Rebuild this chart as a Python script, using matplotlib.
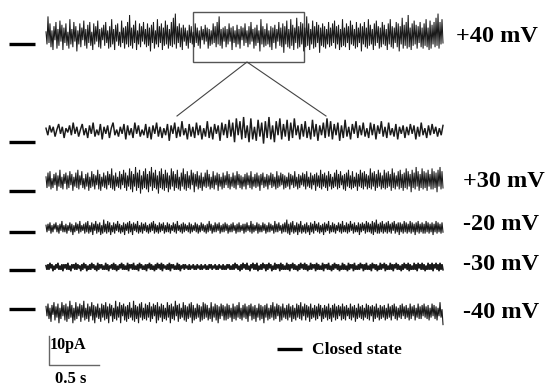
import numpy as np
import matplotlib
matplotlib.use("Agg")
import matplotlib.pyplot as plt
from matplotlib.patches import Rectangle

# ---- data (current values in half-pA units) ----
voltage_labels = ["+40 mV", "", "+30 mV", "-20 mV", "-30 mV", "-40 mV"]

trace_p40 = [
 3,-6,14,-5,9,-8,4,-10,7,-3,10,-9,5,-7,11,-4,8,-10,6,-5,
 9,-7,3,-9,12,-6,5,-8,10,-4,7,-11,4,-6,9,-8,6,-3,11,-7,
 5,-9,8,-5,10,-7,3,-10,9,-6,7,-4,11,-8,5,-9,6,-3,8,-7,
 10,-5,4,-9,7,-8,12,-6,5,-10,8,-4,9,-7,3,-8,11,-5,6,-9,
 7,-6,10,-8,15,-7,6,-9,8,-5,11,-10,4,-6,9,-8,7,-4,10,-6,
 5,-8,9,-7,6,-11,8,-5,10,-9,4,-6,12,-8,7,-5,9,-10,6,-7,
 11,-6,8,-9,5,-7,10,-8,13,-6,16,-9,7,-5,9,-8,6,-10,8,-4,
 6,-7,4,-9,8,-5,7,-6,3,-8,9,-5,6,-7,4,-9,7,-3,5,-6,
 8,-4,6,-9,5,-7,4,-6,9,-5,7,-8,10,-6,14,-7,5,-9,6,-4,
 7,-8,5,-6,9,-4,6,-10,7,-5,4,-8,8,-6,5,-9,7,-3,6,-7,
 9,-5,4,-8,7,-6,10,-4,5,-9,6,-7,8,-5,4,-11,12,-6,7,-8,
 5,-7,9,-6,4,-8,7,-10,6,-5,8,-9,5,-4,10,-7,6,-8,9,-12,
 7,-6,11,-8,5,-9,12,-7,8,-10,6,-5,13,-9,7,-8,10,-6,9,-11,
 6,-8,14,-7,9,-10,5,-6,11,-9,7,-8,10,-5,8,-12,6,-7,9,-8,
 7,-9,5,-6,10,-8,6,-7,9,-5,11,-9,7,-6,8,-10,5,-8,12,-7,
 6,-8,9,-5,7,-10,11,-6,8,-7,5,-9,10,-8,6,-5,9,-11,7,-6,
 10,-8,6,-9,12,-7,8,-6,5,-10,9,-7,11,-5,7,-9,6,-8,10,-6,
 8,-7,5,-10,9,-6,12,-8,7,-9,6,-5,10,-8,9,-11,7,-6,13,-9,
 8,-7,10,-9,15,-8,6,-10,9,-7,11,-6,8,-9,7,-5,10,-8,6,-9,
 9,-7,12,-8,6,-10,11,-9,8,-6,10,-8,13,-7,16,-9,10,-6,12,-5]

trace_zoom = [
 2,-3,4,-1,3,-4,1,5,-2,3,-5,2,-1,4,-3,6,-2,3,-4,1,
 5,-3,2,-5,4,-2,6,-4,1,-3,5,-6,3,-2,4,-5,2,6,-3,1,
 -4,3,-2,5,-6,4,-3,2,-5,6,-2,4,-4,1,-3,5,-5,3,-6,4,
 -2,6,-4,3,-5,2,-3,5,-7,4,-2,6,-5,3,-4,7,-3,2,-6,5,
 -4,3,-5,6,-3,4,-6,2,-4,7,-5,3,-6,5,-2,4,-7,6,-3,5,
 -5,8,-4,6,-8,9,-3,7,-6,10,-5,4,-8,9,-6,3,-7,8,-4,6,
 -9,7,-5,10,-6,4,-8,7,-3,9,-6,5,-4,8,-7,6,-5,9,-3,4,
 -6,5,-4,7,-5,3,-6,8,-4,5,-7,4,-3,6,-5,9,-4,7,-6,5,
 -3,6,-7,4,-5,8,-4,3,-6,5,-2,7,-5,4,-3,6,-4,2,-5,6,
 -3,5,-6,4,-2,7,-4,3,-5,6,-3,2,-4,5,-6,3,-2,4,-5,3,
 -3,5,-2,4,-6,3,-4,6,-3,2,-5,4,-3,5,-2,3,-4,2,-3,4]

trace_p30 = [
 3,-5,6,-4,7,-6,2,-5,5,-3,6,-7,4,-4,8,-5,3,-6,5,-2,
 6,-6,4,-5,7,-3,5,-7,3,-4,6,-5,8,-6,4,-3,7,-5,2,-6,
 5,-4,6,-7,3,-5,7,-4,5,-6,4,-3,8,-6,5,-7,3,-4,6,-5,
 4,-6,7,-3,5,-5,9,-6,4,-7,6,-4,3,-5,7,-6,5,-3,8,-5,
 6,-7,4,-4,9,-6,7,-8,5,-4,10,-7,6,-5,8,-9,4,-6,7,-5,
 9,-6,5,-8,7,-4,10,-7,6,-5,8,-6,4,-9,7,-5,9,-6,5,-7,
 8,-5,6,-8,4,-6,9,-4,7,-7,5,-5,8,-6,3,-7,6,-4,9,-6,
 5,-7,7,-5,4,-6,8,-3,6,-8,5,-4,7,-6,4,-5,6,-7,3,-4,
 6,-5,8,-4,5,-6,3,-5,7,-6,4,-3,6,-7,5,-4,3,-6,6,-5,
 4,-3,7,-5,5,-6,3,-4,6,-5,4,-6,7,-3,5,-5,4,-6,3,-4,
 5,-6,6,-3,4,-5,7,-6,3,-4,5,-5,6,-4,4,-7,5,-3,6,-5,
 3,-4,5,-6,4,-3,6,-5,5,-4,3,-6,7,-5,4,-4,6,-3,5,-6,
 4,-5,3,-4,6,-6,5,-3,4,-5,7,-4,3,-6,5,-5,4,-3,6,-4,
 5,-6,7,-4,3,-5,6,-6,4,-3,5,-7,6,-4,4,-5,8,-6,5,-4,
 6,-5,4,-7,7,-4,5,-6,3,-5,6,-4,8,-6,5,-5,7,-3,4,-6,
 5,-7,6,-4,8,-5,4,-6,7,-5,3,-4,6,-7,5,-4,8,-5,6,-6,
 7,-4,5,-6,4,-5,9,-6,6,-4,7,-7,5,-5,8,-4,6,-6,4,-5,
 8,-6,6,-5,7,-4,5,-7,9,-5,6,-6,4,-4,7,-6,8,-5,5,-7,
 6,-5,9,-6,7,-4,5,-8,8,-5,6,-6,10,-4,7,-7,5,-5,9,-6,
 7,-5,6,-7,8,-4,5,-6,9,-6,7,-5,6,-8,8,-4,10,-6,7,-5]

trace_m20 = [
 2,-3,3,-2,4,-4,2,-3,3,-1,4,-3,2,-4,3,-2,5,-3,2,-3,
 3,-4,2,-2,4,-3,3,-5,2,-3,4,-2,3,-4,5,-3,2,-2,3,-4,
 4,-3,5,-4,2,-3,4,-5,3,-2,5,-4,3,-3,4,-5,2,-4,6,-3,
 3,-4,5,-3,4,-5,2,-3,4,-4,3,-2,5,-3,3,-4,2,-3,4,-5,
 3,-2,4,-4,5,-3,3,-5,4,-2,3,-3,5,-4,2,-3,4,-4,3,-2,
 4,-3,2,-4,3,-3,4,-2,5,-4,3,-3,2,-4,4,-3,3,-2,4,-4,
 2,-3,4,-3,3,-4,2,-2,4,-3,3,-4,5,-2,2,-3,3,-4,4,-3,
 3,-2,2,-3,4,-4,3,-3,2,-2,4,-3,3,-4,2,-3,4,-2,3,-3,
 2,-4,3,-3,5,-2,3,-4,2,-3,4,-3,3,-2,4,-4,2,-3,3,-3,
 4,-2,3,-4,2,-3,3,-3,4,-2,2,-4,3,-3,4,-3,2,-2,3,-4,
 3,-3,4,-2,2,-3,5,-4,3,-3,2,-2,4,-4,3,-3,2,-3,4,-2,
 3,-4,2,-3,4,-3,3,-2,2,-4,5,-3,3,-3,4,-2,2,-4,3,-3,
 4,-3,6,-4,3,-5,4,-3,5,-4,2,-3,4,-5,3,-3,5,-4,2,-3,
 3,-4,4,-3,2,-5,4,-3,3,-4,5,-2,3,-3,4,-4,2,-3,3,-5,
 4,-3,3,-2,5,-4,2,-3,4,-3,3,-4,2,-2,4,-3,3,-4,5,-3,
 2,-3,4,-4,3,-3,5,-2,3,-4,4,-3,2,-3,4,-5,3,-3,4,-2,
 3,-4,5,-3,4,-3,3,-4,5,-5,4,-3,6,-4,3,-4,4,-3,5,-4,
 3,-3,4,-4,5,-3,3,-4,4,-2,5,-4,3,-3,4,-5,4,-3,3,-4,
 5,-3,4,-4,3,-3,5,-4,4,-3,3,-5,4,-3,5,-4,3,-3,4,-4,
 3,-4,5,-3,4,-4,3,-3,4,-5,3,-3,5,-4,4,-3,3,-4,4,-3]

trace_m30 = [
 1,-2,2,-2,3,-1,2,-3,1,-2,2,-1,3,-2,1,-2,2,-3,2,-1,
 2,-2,3,-2,1,-3,2,-1,2,-2,3,-2,2,-1,1,-3,2,-2,3,-1,
 2,-3,1,-2,2,-2,3,-1,2,-2,1,-3,3,-2,2,-1,2,-2,1,-2,
 3,-2,2,-3,1,-1,2,-2,3,-2,2,-3,1,-2,2,-1,3,-2,2,-2,
 1,-2,3,-3,2,-1,2,-2,3,-2,1,-2,2,-3,3,-1,2,-2,1,-2,
 2,-3,2,-1,3,-2,2,-2,1,-3,2,-2,3,-1,2,-2,3,-3,2,-1,
 1,-2,2,-2,3,-3,2,-1,2,-2,1,-2,3,-2,2,-3,1,-1,2,-2,
 2,-1,1,-2,2,-2,1,-1,2,-2,1,-2,2,-1,1,-2,2,-2,1,-1,
 2,-2,1,-2,2,-1,2,-2,1,-1,2,-2,1,-2,2,-1,1,-2,2,-2,
 1,-2,2,-1,2,-2,1,-2,2,-2,3,-1,2,-2,1,-3,2,-2,3,-1,
 2,-2,3,-2,1,-3,2,-1,3,-2,2,-2,3,-3,1,-2,2,-2,3,-1,
 2,-3,2,-2,3,-1,2,-3,1,-2,3,-2,2,-1,2,-3,3,-2,2,-2,
 1,-2,3,-2,2,-3,2,-1,3,-2,2,-2,1,-3,2,-2,3,-1,2,-2,
 3,-2,2,-3,1,-2,3,-2,2,-1,2,-3,3,-2,2,-2,1,-2,3,-3,
 2,-1,2,-2,3,-2,1,-3,2,-2,3,-1,2,-2,2,-3,1,-2,3,-2,
 2,-2,1,-3,3,-2,2,-1,2,-3,3,-2,1,-2,2,-2,3,-1,2,-3,
 2,-2,3,-2,1,-2,2,-3,3,-1,2,-2,2,-3,1,-2,3,-2,2,-1,
 3,-3,2,-2,1,-2,3,-2,2,-3,2,-1,3,-2,2,-2,1,-3,2,-2,
 3,-1,2,-2,3,-3,2,-2,1,-2,3,-2,2,-3,3,-1,2,-2,3,-2,
 2,-3,1,-2,3,-2,2,-2,3,-3,2,-1,3,-2,2,-3,3,-2,2,-2]

trace_m40 = [
 4,-3,6,-5,3,-7,5,-2,7,-6,4,-4,6,-8,3,-5,7,-3,5,-6,
 6,-7,4,-5,8,-4,5,-8,3,-6,7,-5,4,-3,6,-7,5,-4,8,-6,
 3,-5,6,-7,4,-3,7,-6,5,-8,4,-4,6,-5,3,-7,6,-4,5,-6,
 7,-5,4,-8,6,-3,5,-7,3,-5,8,-6,4,-4,7,-8,5,-3,6,-6,
 4,-7,5,-5,7,-4,3,-6,8,-7,5,-5,4,-8,6,-4,7,-6,3,-5,
 6,-6,5,-4,7,-7,4,-5,6,-3,5,-8,7,-6,4,-4,6,-7,5,-5,
 3,-6,7,-4,5,-8,6,-5,4,-6,8,-3,5,-7,6,-5,3,-4,7,-6,
 5,-7,4,-5,6,-4,7,-8,5,-6,3,-5,6,-4,5,-7,4,-6,7,-5,
 6,-4,5,-6,3,-5,7,-7,4,-4,6,-6,5,-8,4,-5,6,-3,5,-6,
 4,-6,6,-5,5,-4,3,-7,6,-5,4,-6,5,-4,7,-5,3,-6,5,-4,
 6,-5,4,-7,5,-3,6,-6,4,-5,5,-7,3,-4,6,-6,5,-5,4,-8,
 5,-4,6,-6,3,-5,5,-4,7,-6,4,-5,6,-3,5,-7,4,-6,6,-4,
 3,-5,5,-6,6,-4,4,-7,5,-5,3,-6,6,-4,5,-5,7,-6,4,-3,
 6,-6,5,-4,4,-7,6,-5,3,-4,5,-6,4,-5,6,-3,5,-7,3,-5,
 5,-4,4,-6,6,-5,3,-7,5,-4,6,-6,4,-5,5,-3,4,-6,6,-5,
 4,-6,5,-3,3,-5,6,-6,4,-4,5,-7,3,-5,6,-4,4,-5,5,-6,
 3,-4,6,-5,5,-6,4,-3,5,-7,4,-5,6,-4,3,-6,5,-5,4,-4,
 5,-6,3,-5,6,-4,4,-6,5,-3,6,-5,4,-6,3,-4,5,-5,6,-3,
 4,-5,5,-4,3,-6,6,-5,4,-3,5,-6,3,-4,6,-5,4,-5,5,-3,
 6,-4,4,-5,5,-6,3,-4,6,-3,5,-5,4,-6,3,-3,7,-4,2,-9]

traces = [trace_p40, trace_zoom, trace_p30, trace_m20, trace_m30, trace_m40]
UNIT_PA = 0.5          # one list unit = 0.5 pA
DURATION_S = 3.97      # length of each sweep

# ---- layout (pixel geometry of the reference) ----
W, H = 547, 387
PX_PER_S = 100.0
PX_PER_PA = 2.8
X0_PX = 46
trace_center_px = [36, 131, 181, 228, 267, 312]
closed_px = [43.5, 141.5, 190.5, 232, 270, 309]
label_y_px = [37, None, 181, 224, 265, 312]
trace_lw = [0.75, 1.05, 0.75, 0.8, 1.15, 0.8]

fig = plt.figure(figsize=(W / 100, H / 100), dpi=100)
ax = fig.add_axes([0, 0, 1, 1])
ax.set_xlim(-X0_PX / PX_PER_S, (W - X0_PX) / PX_PER_S)
ax.set_ylim(-H / PX_PER_PA, 0)
ax.axis("off")

def px_y(py):
    return -py / PX_PER_PA

def px_x(px):
    return (px - X0_PX) / PX_PER_S

serif = ["Liberation Serif", "DejaVu Serif"]

for i, tr in enumerate(traces):
    vals = np.array(tr, dtype=float) * UNIT_PA
    t = np.linspace(0, DURATION_S, len(vals))
    ax.plot(t, px_y(trace_center_px[i]) + vals, color="#1a1a1a",
            lw=trace_lw[i], solid_joinstyle="miter")
    # closed state marker
    ax.plot([px_x(9), px_x(35)], [px_y(closed_px[i])] * 2, color="black",
            lw=2.4, solid_capstyle="butt")
    if label_y_px[i] is not None:
        lx = 456 if i == 0 else 463
        ax.text(px_x(lx), px_y(label_y_px[i]), voltage_labels[i],
                family=serif, weight="bold", fontsize=17.5,
                ha="left", va="center", color="black")

# zoom box and connecting lines
ax.add_patch(Rectangle((px_x(193), px_y(62)), (304 - 193) / PX_PER_S,
                       (62 - 12) / PX_PER_PA, fill=False, ec="#555555", lw=1.0))
ax.plot([px_x(177), px_x(247), px_x(326)], [px_y(116), px_y(62), px_y(116)],
        color="#444444", lw=0.8)

# scale bars
ax.plot([px_x(49), px_x(49), px_x(99)], [px_y(336), px_y(365), px_y(365)],
        color="#666666", lw=1.0)
ax.text(px_x(50), px_y(345), "10pA", family=serif, weight="bold",
        fontsize=11.5, ha="left", va="center")
ax.text(px_x(55), px_y(379), "0.5 s", family=serif, weight="bold",
        fontsize=12, ha="left", va="center")

# closed-state legend
ax.plot([px_x(277), px_x(302)], [px_y(349)] * 2, color="black", lw=2.4,
        solid_capstyle="butt")
ax.text(px_x(312), px_y(350), "Closed state", family=serif, weight="bold",
        fontsize=12.5, ha="left", va="center")

fig.savefig("out.png", dpi=100, facecolor="white")
